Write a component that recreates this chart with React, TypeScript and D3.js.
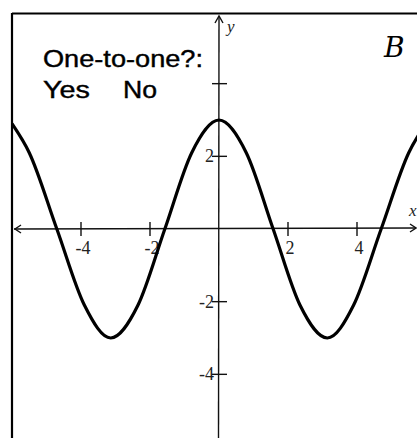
import React from 'react';
import * as d3 from 'd3';

// values
const curveX = [-6.0, -5.5, -4.7, -3.9, -3.14, -2.35, -1.57, -0.79, 0, 0.79, 1.57, 2.35, 3.14, 3.9, 4.7, 5.5, 6.0];
const curveY = [2.9, 2.1, 0, -2.1, -3, -2.1, 0, 2.1, 3, 2.1, 0, -2.1, -3, -2.1, 0, 2.1, 2.9];
const xTicks = [-4, -2, 2, 4];
const yTicks = [-4, -2, 2, 4];
const yTickLabels = ['-4', '-2', '2', ''];
const xTickLabels = ['-4', '-2', '2', '4'];

const W = 417;
const H = 438;

export default function App() {
  const x = d3.scaleLinear().domain([-6, 6]).range([12, 426]);
  const y = d3.scaleLinear().domain([-6, 6]).range([447, 11]);

  const pts: [number, number][] = curveX.map((v, i) => [v, curveY[i]]);
  const line = d3
    .line<[number, number]>()
    .x((d) => x(d[0]))
    .y((d) => y(d[1]))
    .curve(d3.curveMonotoneX);

  const x0 = x(0);
  const y0 = y(0);

  return (
    <svg
      width={W}
      height={H}
      style={{ position: 'fixed', left: 0, top: 0, background: '#fff' }}
    >
      <defs>
        <clipPath id="plot">
          <rect x={13} y={14} width={W} height={H} />
        </clipPath>
      </defs>

      {/* frame */}
      <line x1={12} y1={13.5} x2={W} y2={13.5} stroke="#000" strokeWidth={2.2} />
      <line x1={12} y1={13} x2={12} y2={H} stroke="#000" strokeWidth={2.2} />

      {/* axes */}
      <g stroke="#111" strokeWidth={1.4} fill="none">
        <line x1={14} y1={y0} x2={416} y2={y0 - 1} />
        <polyline points={`${21},${y0 - 4} ${15},${y0} ${21},${y0 + 4}`} />
        <polyline points={`${410},${y0 - 5} ${416},${y0 - 1} ${410},${y0 + 3}`} />
        <line x1={x0} y1={16} x2={x0 - 0.5} y2={H} />
        <polyline points={`${x0 - 4},${23} ${x0},${16} ${x0 + 4},${23}`} />
      </g>

      {/* ticks */}
      <g stroke="#111" strokeWidth={1.4}>
        {xTicks.map((t) => (
          <line key={t} x1={x(t)} x2={x(t)} y1={y0 - 7} y2={y0 + 7} />
        ))}
        {yTicks.map((t) => (
          <line key={t} x1={x0 - 7} x2={x0 + 8} y1={y(t)} y2={y(t)} />
        ))}
      </g>

      <g fontFamily="'Liberation Serif', 'DejaVu Serif', serif" fontSize={18} fill="#222">
        {xTicks.map((t, i) => (
          <text key={t} x={x(t) + 2} y={y0 + 25} textAnchor="middle">
            {xTickLabels[i]}
          </text>
        ))}
        {yTicks.map((t, i) => (
          <text key={t} x={x0 - 5} y={y(t) + 6} textAnchor="end">
            {yTickLabels[i]}
          </text>
        ))}
        <text x={x0 + 8} y={32} fontStyle="italic" fontSize={17}>y</text>
        <text x={409} y={216} fontStyle="italic" fontSize={17}>x</text>
      </g>

      {/* curve */}
      <path
        d={line(pts) ?? ''}
        fill="none"
        stroke="#000"
        strokeWidth={3.2}
        clipPath="url(#plot)"
        strokeLinejoin="round"
      />

      {/* worksheet text */}
      <g
        fontFamily="'Liberation Sans', Arial, sans-serif"
        fontSize={23}
        fill="#000"
        stroke="#000"
        strokeWidth={0.4}
      >
        <text x={43} y={67} textLength={160} lengthAdjust="spacingAndGlyphs">One-to-one?:</text>
        <text x={43} y={98} textLength={47} lengthAdjust="spacingAndGlyphs">Yes</text>
        <text x={123} y={98} textLength={34} lengthAdjust="spacingAndGlyphs">No</text>
      </g>

      {/* handwritten letter */}
      <text
        x={384}
        y={57}
        fontFamily="'DejaVu Serif', serif"
        fontStyle="italic"
        fontSize={28}
        fill="#000"
      >
        B
      </text>
    </svg>
  );
}
